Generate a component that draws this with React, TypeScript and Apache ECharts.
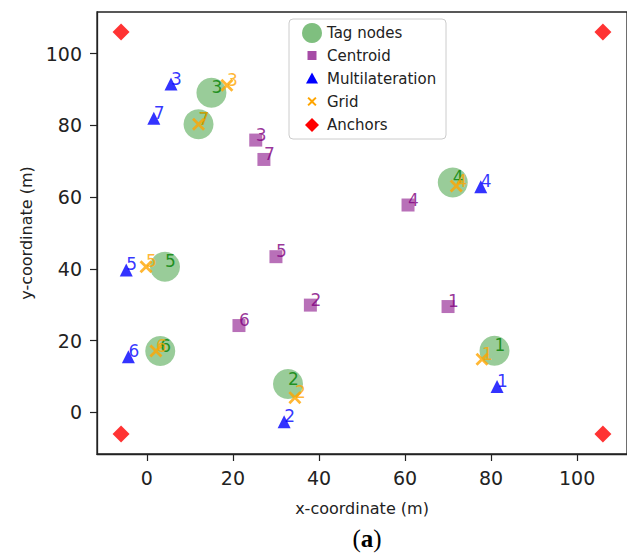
import React, { useEffect, useRef } from "react";
import * as echarts from "echarts";

const seriesNames = ["Tag nodes", "Centroid", "Multilateration", "Grid", "Anchors"];
const tickValues = [0, 20, 40, 60, 80, 100];

const tagX = [80.8, 32.8, 15.0, 71.1, 4.2, 3.1, 12.0];
const tagY = [17.2, 7.9, 89.1, 64.1, 40.6, 17.1, 80.3];

const centroidX = [70.0, 38.0, 25.3, 60.7, 30.0, 21.4, 27.2];
const centroidY = [29.5, 29.9, 75.9, 57.8, 43.4, 24.2, 70.5];

const multiX = [81.4, 31.9, 5.6, 77.6, -4.8, -4.3, 1.6];
const multiY = [7.2, -2.6, 91.5, 62.9, 39.7, 15.5, 82.0];

const gridX = [77.9, 34.4, 18.6, 71.9, -0.2, 2.1, 12.0];
const gridY = [14.8, 4.1, 91.2, 63.1, 40.6, 17.1, 80.3];

const anchorX = [-6, -6, 106, 106];
const anchorY = [-6, 106, -6, 106];

const X_PATH =
  "path://M0,1.5L1.5,0L5,3.5L8.5,0L10,1.5L6.5,5L10,8.5L8.5,10L5,6.5L1.5,10L0,8.5L3.5,5Z";

const FONT = "DejaVu Sans";

function zip(xs: number[], ys: number[]) {
  return xs.map((x, i) => [x, ys[i]]);
}

function labelCfg(color: string) {
  return {
    show: true,
    position: ["50%", "50%"],
    align: "left",
    verticalAlign: "bottom",
    offset: [0, 3],
    color,
    fontSize: 17,
    fontFamily: FONT,
    formatter: (p: any) => String(p.dataIndex + 1),
  };
}

export default function App() {
  const ref = useRef<HTMLDivElement>(null);

  useEffect(() => {
    if (!ref.current) return;
    const chart = echarts.init(ref.current, undefined, { renderer: "svg" });

    const lx = 312;
    const rows = [33, 55.5, 78.5, 101.5, 125];
    const xs = 4.6;
    const legendGraphics: any[] = [
      {
        type: "rect",
        shape: { x: 289, y: 19, width: 157, height: 120, r: 4 },
        style: { fill: "rgba(255,255,255,0.8)", stroke: "#cccccc", lineWidth: 1 },
        z: 100,
      },
      {
        type: "circle",
        shape: { cx: lx, cy: rows[0], r: 10 },
        style: { fill: "rgba(0,128,0,0.5)" },
        z: 101,
      },
      {
        type: "rect",
        shape: { x: lx - 4.5, y: rows[1] - 4.5, width: 9, height: 9 },
        style: { fill: "rgba(128,0,128,0.7)" },
        z: 101,
      },
      {
        type: "polygon",
        shape: {
          points: [
            [lx, rows[2] - 6],
            [lx + 6, rows[2] + 5],
            [lx - 6, rows[2] + 5],
          ],
        },
        style: { fill: "#0000ff" },
        z: 101,
      },
      {
        type: "polygon",
        shape: {
          points: [
            [lx - xs, rows[3] - xs + 1.4],
            [lx - xs + 1.4, rows[3] - xs],
            [lx, rows[3] - 1.4],
            [lx + xs - 1.4, rows[3] - xs],
            [lx + xs, rows[3] - xs + 1.4],
            [lx + 1.4, rows[3]],
            [lx + xs, rows[3] + xs - 1.4],
            [lx + xs - 1.4, rows[3] + xs],
            [lx, rows[3] + 1.4],
            [lx - xs + 1.4, rows[3] + xs],
            [lx - xs, rows[3] + xs - 1.4],
            [lx - 1.4, rows[3]],
          ],
        },
        style: { fill: "#ffa500" },
        z: 101,
      },
      {
        type: "polygon",
        shape: {
          points: [
            [lx, rows[4] - 7],
            [lx + 7, rows[4]],
            [lx, rows[4] + 7],
            [lx - 7, rows[4]],
          ],
        },
        style: { fill: "#ff0000" },
        z: 101,
      },
      ...seriesNames.map((name, i) => ({
        type: "text",
        style: {
          x: 327,
          y: rows[i],
          text: name,
          fill: "#222222",
          font: `15px "${FONT}"`,
          textAlign: "left",
          textVerticalAlign: "middle",
        },
        z: 101,
      })),
      {
        type: "text",
        style: {
          x: 367,
          y: 538,
          text: "{p|(}{b|a}{p|)}",
          textAlign: "center",
          textVerticalAlign: "middle",
          rich: {
            p: { fontFamily: "Liberation Serif", fontSize: 25, fill: "#000" },
            b: { fontFamily: "Liberation Serif", fontSize: 25, fontWeight: "bold", fill: "#000" },
          },
        },
        z: 101,
      },
    ];

    const axisCommon = {
      type: "value",
      min: -11.6,
      max: 111.6,
      splitLine: { show: false },
      axisLine: { show: true, onZero: false, lineStyle: { color: "#222", width: 1.3 } },
      axisTick: {
        show: true,
        length: 7,
        customValues: tickValues,
        lineStyle: { color: "#222", width: 1.2 },
      },
      nameLocation: "middle",
      nameTextStyle: { fontFamily: FONT, fontSize: 16, color: "#222" },
    };

    chart.setOption({
      animation: false,
      backgroundColor: "#ffffff",
      textStyle: { fontFamily: FONT },
      grid: {
        left: 97,
        top: 12,
        width: 540,
        height: 442,
        show: true,
        borderColor: "#222",
        borderWidth: 1.3,
        containLabel: false,
      },
      xAxis: {
        ...axisCommon,
        name: "x-coordinate (m)",
        nameGap: 46,
        axisLabel: {
          customValues: tickValues,
          fontSize: 19,
          color: "#222",
          margin: 14,
          fontFamily: FONT,
        },
      },
      yAxis: {
        ...axisCommon,
        name: "y-coordinate (m)",
        nameGap: 53,
        axisLabel: {
          customValues: tickValues,
          fontSize: 19,
          color: "#222",
          margin: 15,
          fontFamily: FONT,
        },
      },
      series: [
        {
          name: seriesNames[0],
          type: "scatter",
          symbol: "circle",
          symbolSize: 30,
          itemStyle: { color: "rgba(0,128,0,0.5)" },
          label: labelCfg("#008000"),
          data: zip(tagX, tagY),
          z: 2,
        },
        {
          name: seriesNames[1],
          type: "scatter",
          symbol: "rect",
          symbolSize: 13,
          itemStyle: { color: "rgba(128,0,128,0.7)" },
          label: labelCfg("#800080"),
          data: zip(centroidX, centroidY),
          z: 3,
        },
        {
          name: seriesNames[2],
          type: "scatter",
          symbol: "triangle",
          symbolSize: 13,
          itemStyle: { color: "#0000ff" },
          label: labelCfg("#0000ff"),
          data: zip(multiX, multiY),
          z: 4,
        },
        {
          name: seriesNames[3],
          type: "scatter",
          symbol: X_PATH,
          symbolSize: 13,
          itemStyle: { color: "#ffa500" },
          label: labelCfg("#ffa500"),
          data: zip(gridX, gridY),
          z: 5,
        },
        {
          name: seriesNames[4],
          type: "scatter",
          symbol: "diamond",
          symbolSize: 17,
          itemStyle: { color: "#ff0000" },
          data: zip(anchorX, anchorY),
          z: 6,
        },
      ],
      graphic: legendGraphics,
    });

    return () => chart.dispose();
  }, []);

  return (
    <div
      ref={ref}
      style={{ position: "fixed", left: 0, top: 0, width: 627, height: 556, background: "#fff" }}
    />
  );
}
